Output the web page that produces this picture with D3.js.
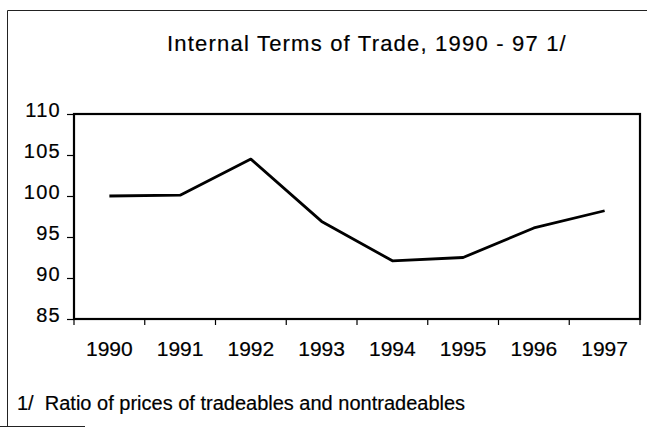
<!DOCTYPE html>
<html>
<head>
<meta charset="utf-8">
<script src="https://cdn.jsdelivr.net/npm/d3@7"></script>
<style>
  body { margin: 0; background: #fff; }
  svg { display: block; font-family: "Liberation Sans", Arial, sans-serif; }
  svg text { stroke: #000; stroke-width: 0.2px; fill: #000; }
</style>
</head>
<body>
<div id="chart"></div>
<script>
// data
const years = ["1990", "1991", "1992", "1993", "1994", "1995", "1996", "1997"];
const termsOfTrade = [100.0, 100.1, 104.5, 96.9, 92.1, 92.5, 96.1, 98.2];
const yTicks = [85, 90, 95, 100, 105, 110];
const title = "Internal Terms of Trade, 1990 - 97 1/";
const footnote = "1/  Ratio of prices of tradeables and nontradeables";

const W = 647, H = 427;
const margin = {top: 114, right: 7, bottom: 108, left: 74};
const width = W - margin.left - margin.right;
const height = H - margin.top - margin.bottom;

const svg = d3.select("#chart").append("svg")
  .attr("width", W)
  .attr("height", H);

// outer frame, cut off by the scan on the right and most of the bottom
svg.append("path")
  .attr("d", "M7.5,426 V10.5 H647 M0,426.5 H85")
  .attr("fill", "none")
  .attr("stroke", "#222")
  .attr("stroke-width", 1);

svg.append("text")
  .attr("x", 367).attr("y", 51)
  .attr("text-anchor", "middle")
  .style("font-size", "22px")
  .style("letter-spacing", "1.2px")
  .text(title);

const chart = svg.append("g")
  .attr("transform", "translate(" + margin.left + "," + margin.top + ")");

const x = d3.scaleBand().domain(years).range([0, width]).padding(0);
const y = d3.scaleLinear().domain([85, 110]).range([height, 0]);

// y axis
const yAxis = chart.append("g")
  .call(d3.axisLeft(y).tickValues(yTicks).tickSize(7).tickPadding(6));
yAxis.select(".domain").remove();
yAxis.selectAll(".tick line").attr("stroke", "#000").attr("stroke-width", 1.2);
yAxis.selectAll("text")
  .attr("dy", "0.1em")
  .style("font-size", "20px")
  .style("letter-spacing", "1.3px");

// x axis: labels centred in bands, ticks on band edges
const xAxis = chart.append("g")
  .attr("transform", "translate(0," + height + ")")
  .call(d3.axisBottom(x).tickSize(0).tickPadding(22));
xAxis.select(".domain").remove();
xAxis.selectAll("text")
  .style("font-size", "21px");

chart.append("g").selectAll("line")
  .data(years.map(d => x(d)).concat([width]))
  .join("line")
  .attr("x1", d => d).attr("x2", d => d)
  .attr("y1", height).attr("y2", height + 6)
  .attr("stroke", "#000")
  .attr("stroke-width", 1.2);

// plot frame
chart.append("rect")
  .attr("x", 0).attr("y", 0)
  .attr("width", width).attr("height", height)
  .attr("fill", "none")
  .attr("stroke", "#000")
  .attr("stroke-width", 2.2);

const line = d3.line()
  .x((d, i) => x(years[i]) + x.bandwidth() / 2)
  .y(d => y(d));

chart.append("path")
  .datum(termsOfTrade)
  .attr("d", line)
  .attr("fill", "none")
  .attr("stroke", "#000")
  .attr("stroke-width", 2.8)
  .attr("stroke-linejoin", "round");

svg.append("text")
  .attr("x", 17).attr("y", 410)
  .style("font-size", "20px")
  .style("white-space", "pre")
  .text(footnote);
</script>
</body>
</html>
